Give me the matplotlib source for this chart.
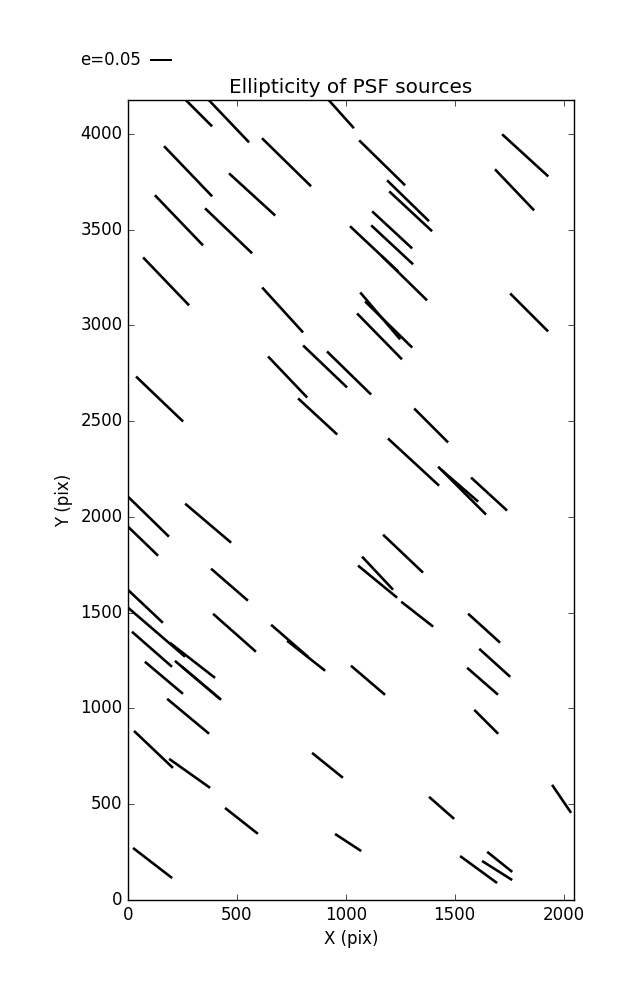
import numpy as np
import matplotlib
matplotlib.use("Agg")
import matplotlib.pyplot as plt

# PSF star positions on the chip (pix), ellipticity and position angle (deg)
x = [324, 462, 978, 276, 728, 1167, 1824, 570, 1286, 1298,
     1775, 234, 462, 1213, 1213, 1130, 1270, 175, 710, 1842,
     1158, 1197, 1155, 733, 905, 1015, 145, 871, 1392, 1311,
     1534, 1523, 1658, 94, 368, 69, 466, 1263, 1146, 1146,
     1328, 80, 131, 296, 489, 742, 818, 110, 165, 319,
     338, 1635, 1684, 1102, 1628, 276, 117, 283, 916, 1645,
     521, 1011, 1440, 1991, 113, 1610, 1707, 1695]
y = [4109, 4067, 4104, 3804, 3851, 3848, 3887, 3683, 3650, 3595,
     3707, 3548, 3493, 3498, 3420, 3399, 3245, 3229, 3080, 3067,
     3049, 3004, 2942, 2730, 2785, 2751, 2615, 2524, 2477, 2286,
     2137, 2163, 2119, 2001, 1967, 1873, 1646, 1808, 1706, 1662,
     1492, 1533, 1398, 1251, 1395, 1353, 1275, 1309, 1160, 1149,
     1131, 1419, 1238, 1147, 1142, 959, 786, 661, 703, 930,
     413, 300, 481, 528, 193, 159, 199, 154]
e = [0.087, 0.135, 0.088, 0.158, 0.156, 0.146, 0.142, 0.142, 0.133, 0.133,
     0.129, 0.158, 0.148, 0.124, 0.130, 0.150, 0.143, 0.151, 0.138, 0.122,
     0.140, 0.150, 0.146, 0.129, 0.138, 0.140, 0.148, 0.121, 0.109, 0.158,
     0.154, 0.111, 0.111, 0.130, 0.137, 0.095, 0.111, 0.125, 0.103, 0.115,
     0.092, 0.109, 0.171, 0.130, 0.130, 0.111, 0.110, 0.121, 0.113, 0.134,
     0.116, 0.098, 0.095, 0.102, 0.093, 0.124, 0.122, 0.114, 0.090, 0.077,
     0.095, 0.071, 0.076, 0.077, 0.112, 0.104, 0.073, 0.081]
theta = [-45.0, -46.4, -48.1, -46.2, -44.4, -44.4, -42.4, -42.4, -44.3, -42.9,
         -46.4, -46.2, -43.7, -42.8, -42.9, -43.2, -44.4, -46.2, -47.7, -45.0,
         -49.6, -44.4, -45.6, -46.4, -43.7, -44.3, -43.7, -42.7, -45.0, -42.7,
         -45.0, -40.9, -42.5, -44.3, -40.3, -44.0, -40.9, -43.5, -46.8, -39.4,
         -38.0, -43.3, -40.7, -37.9, -41.5, -40.9, -38.3, -41.2, -40.1, -40.2,
         -40.2, -42.2, -42.1, -40.5, -41.1, -39.8, -43.5, -35.3, -38.9, -45.0,
         -38.2, -33.2, -41.3, -55.8, -37.6, -36.1, -38.7, -32.3]

key_e = 0.05

plt.style.use('classic')
fig = plt.figure(figsize=(6.37, 10), dpi=100, facecolor='white')
ax = fig.add_axes([128 / 637, 0.1, 446 / 637, 0.8])

t = np.radians(theta)
u = np.array(e) * np.cos(t)
v = np.array(e) * np.sin(t)

q = ax.quiver(x, y, u, v, angles='uv', pivot='middle',
              scale_units='inches', scale=1 / 4.4,
              units='dots', width=2.6,
              headwidth=0, headlength=0, headaxislength=0, color='k')
# key with label on the left; X is the tail of the key line
ax.quiverkey(q, 150 / 637, 0.94, key_e, 'e=%.2f' % key_e,
             coordinates='figure', labelpos='W', labelsep=0.09,
             fontproperties={'size': 12})

ax.set_xlim(0, 2048)
ax.set_ylim(0, 4176)
ax.set_xlabel('X (pix)')
ax.set_ylabel('Y (pix)')
ax.set_title('Ellipticity of PSF sources')

fig.savefig('out.png', dpi=100, facecolor='white')
